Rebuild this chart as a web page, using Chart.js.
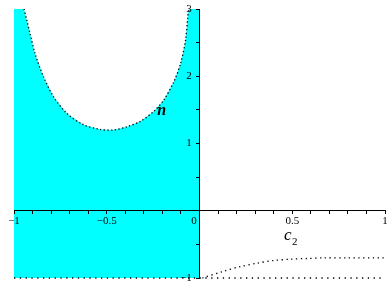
<!DOCTYPE html>
<html><head><meta charset="utf-8">
<script src="https://cdn.jsdelivr.net/npm/chart.js@4/dist/chart.umd.min.js"></script>
<style>html,body{margin:0;padding:0;background:#fff}canvas{display:block}</style>
</head><body>
<canvas id="c" width="392" height="288"></canvas>
<script>
// Region boundary curve (n as function of c2) on -1<c2<0
const curveX = [-0.946, -0.93, -0.914, -0.887, -0.842, -0.788, -0.716, -0.626, -0.536, -0.464, -0.39, -0.318, -0.246, -0.192, -0.138, -0.102, -0.075, -0.063, -0.057];
const curveY = [3.0, 2.82, 2.64, 2.34, 2.0, 1.70, 1.45, 1.28, 1.21, 1.20, 1.25, 1.33, 1.48, 1.65, 1.92, 2.19, 2.54, 2.89, 3.0];
// Right-hand dotted curve on 0<c2<1
const rightX = [0.015, 0.13, 0.22, 0.31, 0.40, 0.49, 0.58, 0.67, 0.80, 1.0];
const rightY = [-1.0, -0.90, -0.83, -0.78, -0.74, -0.72, -0.71, -0.70, -0.70, -0.70];
// Horizontal dotted line n = -1
const baseX = [-1, 1];
const baseY = [-1, -1];
// Axis ranges and labelled ticks
const xRange = [-1, 1];
const yRange = [-1, 3];
const xLabelled = [-1, -0.5, 0, 0.5, 1];
const xLabelText = ["\u22121", "\u22120.5", "0\u2007\u2007", "0.5", "1"];
const yLabelled = [-1, 1, 2, 3];
const yLabelText = ["\u22121\u2007\u2009", "1\u2007\u2009", "2\u2007\u2009", "3\u2007\u2009"];

const toPts = (xs, ys) => xs.map((x, i) => ({x, y: ys[i]}));
const fillPts = [{x: xRange[0], y: yRange[1]}].concat(toPts(curveX, curveY)).concat([{x: 0, y: yRange[1]}]);

const textPlugin = {
  id: 'txt',
  afterDraw(chart) {
    const {ctx, scales: {x, y}} = chart;
    ctx.save();
    ctx.fillStyle = '#000';
    ctx.textBaseline = 'alphabetic';
    ctx.font = 'italic bold 16px "Liberation Serif"';
    ctx.fillText('n', x.getPixelForValue(-0.228), y.getPixelForValue(1.43));
    ctx.font = 'italic 17px "Liberation Serif"';
    const cx = x.getPixelForValue(0.455), cy = y.getPixelForValue(-0.43);
    ctx.fillText('c', cx, cy);
    ctx.font = '11px "Liberation Serif"';
    ctx.fillText('2', cx + 8, cy + 5);
    ctx.restore();
  }
};

function findLabel(v, vals, texts) {
  for (let i = 0; i < vals.length; i++) if (Math.abs(v - vals[i]) < 1e-6) return texts[i];
  return '';
}

new Chart(document.getElementById('c'), {
  type: 'scatter',
  data: {
    datasets: [
      {data: fillPts, showLine: true, fill: 'start', backgroundColor: '#00FFFF', borderWidth: 0, pointRadius: 0, tension: 0, order: 3},
      {data: toPts(curveX, curveY), showLine: true, fill: false, borderColor: '#000', borderWidth: 1.3, borderDash: [1.3, 2.4], pointRadius: 0, tension: 0.3, order: 1},
      {data: toPts(rightX, rightY), showLine: true, fill: false, borderColor: '#000', borderWidth: 1.3, borderDash: [1.3, 3.5], pointRadius: 0, tension: 0.3, order: 1, clip: 6},
      {data: toPts(baseX, baseY), showLine: true, fill: false, borderColor: '#000', borderWidth: 1.3, borderDash: [1.3, 4.5], pointRadius: 0, order: 1, clip: 6}
    ]
  },
  options: {
    responsive: false,
    animation: false,
    devicePixelRatio: 1,
    layout: {padding: {left: 14, right: 7, top: 9, bottom: 10}},
    plugins: {legend: {display: false}, tooltip: {enabled: false}},
    scales: {
      x: {
        type: 'linear', min: xRange[0], max: xRange[1], position: {y: 0},
        grid: {drawOnChartArea: false, drawTicks: true, tickLength: 3, tickColor: '#000', z: 2},
        border: {display: true, color: '#000', width: 1, z: 2},
        ticks: {stepSize: 0.1, autoSkip: false, maxRotation: 0, padding: 1, color: '#000', z: 2,
          font: {family: 'Liberation Serif', size: 11},
          callback: v => findLabel(v, xLabelled, xLabelText)}
      },
      y: {
        type: 'linear', min: yRange[0], max: yRange[1], position: {x: 0},
        grid: {drawOnChartArea: false, drawTicks: true, tickLength: 3, tickColor: '#000', z: 2},
        border: {display: true, color: '#000', width: 1, z: 2},
        ticks: {stepSize: 0.5, autoSkip: false, padding: 2, color: '#000', z: 2,
          font: {family: 'Liberation Serif', size: 11},
          callback: v => findLabel(v, yLabelled, yLabelText)}
      }
    }
  },
  plugins: [textPlugin]
});
</script>
</body></html>
